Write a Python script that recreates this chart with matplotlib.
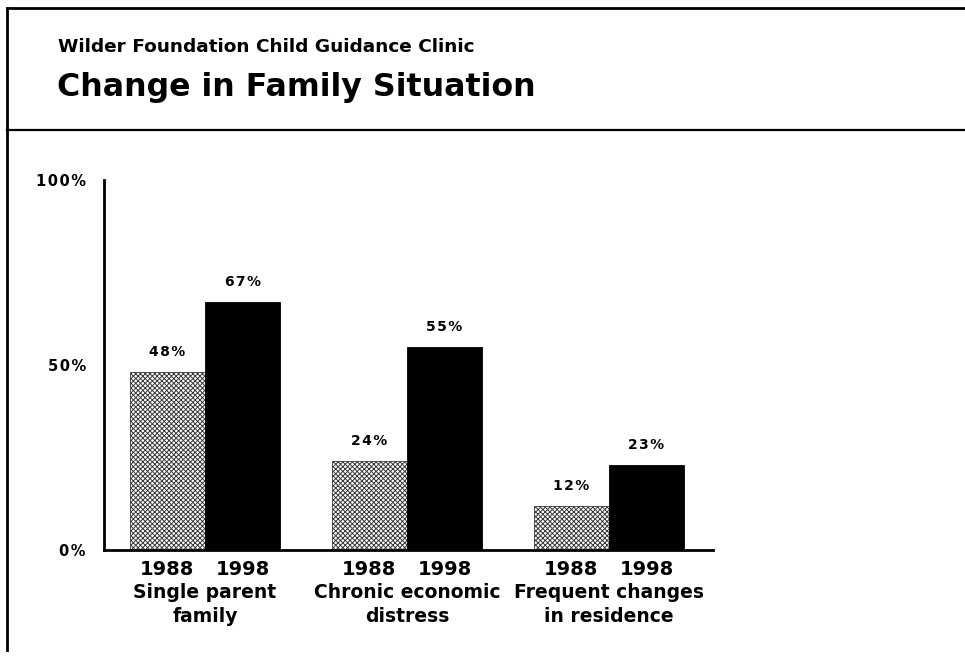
import matplotlib.pyplot as plt
from matplotlib.lines import Line2D
import numpy as np

# Data
categories = ['Single parent\nfamily', 'Chronic economic\ndistress', 'Frequent changes\nin residence']
years = ['1988', '1998']
values_1988 = [48, 24, 12]
values_1998 = [67, 55, 23]
yticks = [0, 50, 100]
ytick_labels = ['0%', '50%', '100%']

plt.rcParams['font.family'] = ['DejaVu Sans']
plt.rcParams['font.weight'] = 'bold'
plt.rcParams['hatch.linewidth'] = 0.7

HS = '\u200a'  # hair space, for the letter-spaced small labels


def spaced(s):
    return HS.join(s)


fig = plt.figure(figsize=(9.65, 6.61), dpi=100)

# frame lines of the slide
W, H = 965, 661
def px_line(x0, y0, x1, y1, lw=2):
    fig.add_artist(Line2D([x0 / W, x1 / W], [1 - y0 / H, 1 - y1 / H],
                          color='black', lw=lw, transform=fig.transFigure))

px_line(7, 8, 965, 8, lw=2)
px_line(7, 8, 7, 650, lw=2)
px_line(7, 130, 965, 130, lw=1.6)

fig.text(58 / W, 1 - 52 / H, 'Wilder Foundation Child Guidance Clinic',
         fontsize=13.3, fontweight='bold', va='baseline', ha='left')
fig.text(57 / W, 1 - 96 / H, 'Change in Family Situation',
         fontsize=22.8, fontweight='bold', va='baseline', ha='left')

ax = fig.add_axes([104 / W, 1 - 550 / H, (713 - 104) / W, (550 - 180) / H])
x = np.arange(len(categories))
width = 0.372

b1 = ax.bar(x - width / 2, values_1988, width, color='white', hatch='xxxxxxx',
            edgecolor='#3a3a3a', linewidth=0.6)
b2 = ax.bar(x + width / 2, values_1998, width, color='black', edgecolor='black',
            linewidth=0.6)

for bars, vals in [(b1, values_1988), (b2, values_1998)]:
    for bar, v in zip(bars, vals):
        ax.text(bar.get_x() + bar.get_width() / 2, v + 3.5, spaced(f'{v}%'),
                ha='center', va='bottom', fontsize=10, fontweight='bold')

ax.set_xlim(-0.5, 2.515)
ax.set_ylim(0, 100)
ax.set_yticks(yticks)
ax.set_yticklabels([spaced(t) for t in ytick_labels], fontsize=10.5, fontweight='bold')
ax.tick_params(axis='y', length=0, pad=13)
ax.set_xticks([])

for i, cat in enumerate(categories):
    ax.text(i - width / 2, -2.8, years[0], ha='center', va='top', fontsize=14,
            fontweight='bold')
    ax.text(i + width / 2, -2.8, years[1], ha='center', va='top', fontsize=14,
            fontweight='bold')
    ax.text(i, -9.0, cat, ha='center', va='top', fontsize=13.5, fontweight='bold',
            linespacing=1.3)

for side in ['top', 'right']:
    ax.spines[side].set_visible(False)
ax.spines['left'].set_linewidth(2)
ax.spines['bottom'].set_linewidth(2)

plt.savefig('out.png', dpi=100)
